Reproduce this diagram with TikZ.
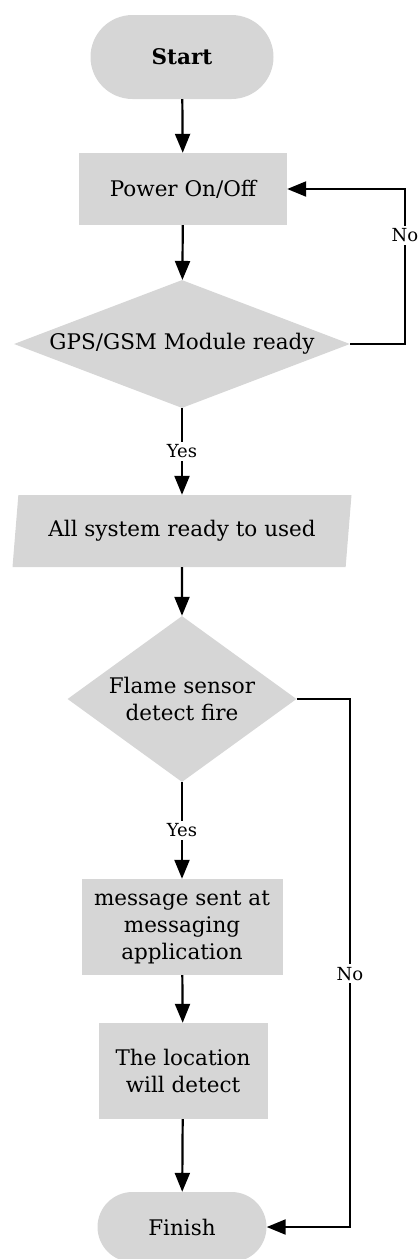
\documentclass[tikz,border=0pt]{standalone}
\usepackage{fontspec}
\setmainfont{DejaVu Serif}
\usetikzlibrary{shapes.geometric,shapes.misc,arrows.meta}
\definecolor{boxgray}{RGB}{214,214,214}
\begin{document}
\begin{tikzpicture}[x=1pt,y=1pt,
        font=\fontsize{21.5}{27}\selectfont,
        terminal/.style={rounded rectangle,fill=boxgray,inner sep=0pt},
        process/.style={rectangle,fill=boxgray,align=center,inner sep=0pt},
        decision/.style={diamond,fill=boxgray,align=center,inner sep=0pt},
        inout/.style={trapezium,trapezium left angle=74.5,trapezium right angle=105.5,
            trapezium stretches body,fill=boxgray,inner sep=0pt},
        flow/.style={line width=2.2pt,-{Triangle[length=19pt,width=15pt]}},
        answer/.style={fill=white,font=\fontsize{18}{20}\selectfont,inner sep=3pt}]
    \useasboundingbox (0,0) rectangle (420,-1259);
    \node[terminal,minimum width=183pt,minimum height=84pt] (start) at (182,-57) {\textbf{Start}};
    \node[process,minimum width=208pt,minimum height=72pt] (power) at (183,-189) {Power On/Off};
    \node[decision,aspect=2.62,minimum width=336pt,minimum height=128pt] (gps) at (182,-344) {GPS/GSM Module ready};
    \node[inout,minimum width=339pt,minimum height=72pt] (ready) at (182,-531) {All system ready to used};
    \node[decision,aspect=1.38,minimum width=229pt,minimum height=166pt] (flame) at (182,-699) {Flame sensor\\detect fire};
    \node[process,minimum width=201pt,minimum height=96pt] (msg) at (182,-927) {message sent at\\messaging\\application};
    \node[process,minimum width=169pt,minimum height=96pt] (loc) at (183,-1071) {The location\\will detect};
    \node[terminal,minimum width=169pt,minimum height=70pt] (finish) at (182,-1227) {Finish};
    \coordinate (loopA) at (405,-189);
    \coordinate (loopB) at (350,-1227);
    \draw[flow] (start) -- (power);
    \draw[flow] (power) -- (gps);
    \draw[flow] (gps.east) -| (loopA) node[answer,pos=0.85] {No} -- (power.east);
    \draw[flow] (gps) -- node[answer] {Yes} (ready);
    \draw[flow] (ready) -- (flame);
    \draw[flow] (flame) -- node[answer] {Yes} (msg);
    \draw[flow] (msg) -- (loc);
    \draw[flow] (loc) -- (finish);
    \draw[flow] (flame.east) -| (loopB) node[answer,pos=0.76] {No} -- (finish.east);
\end{tikzpicture}
\end{document}
